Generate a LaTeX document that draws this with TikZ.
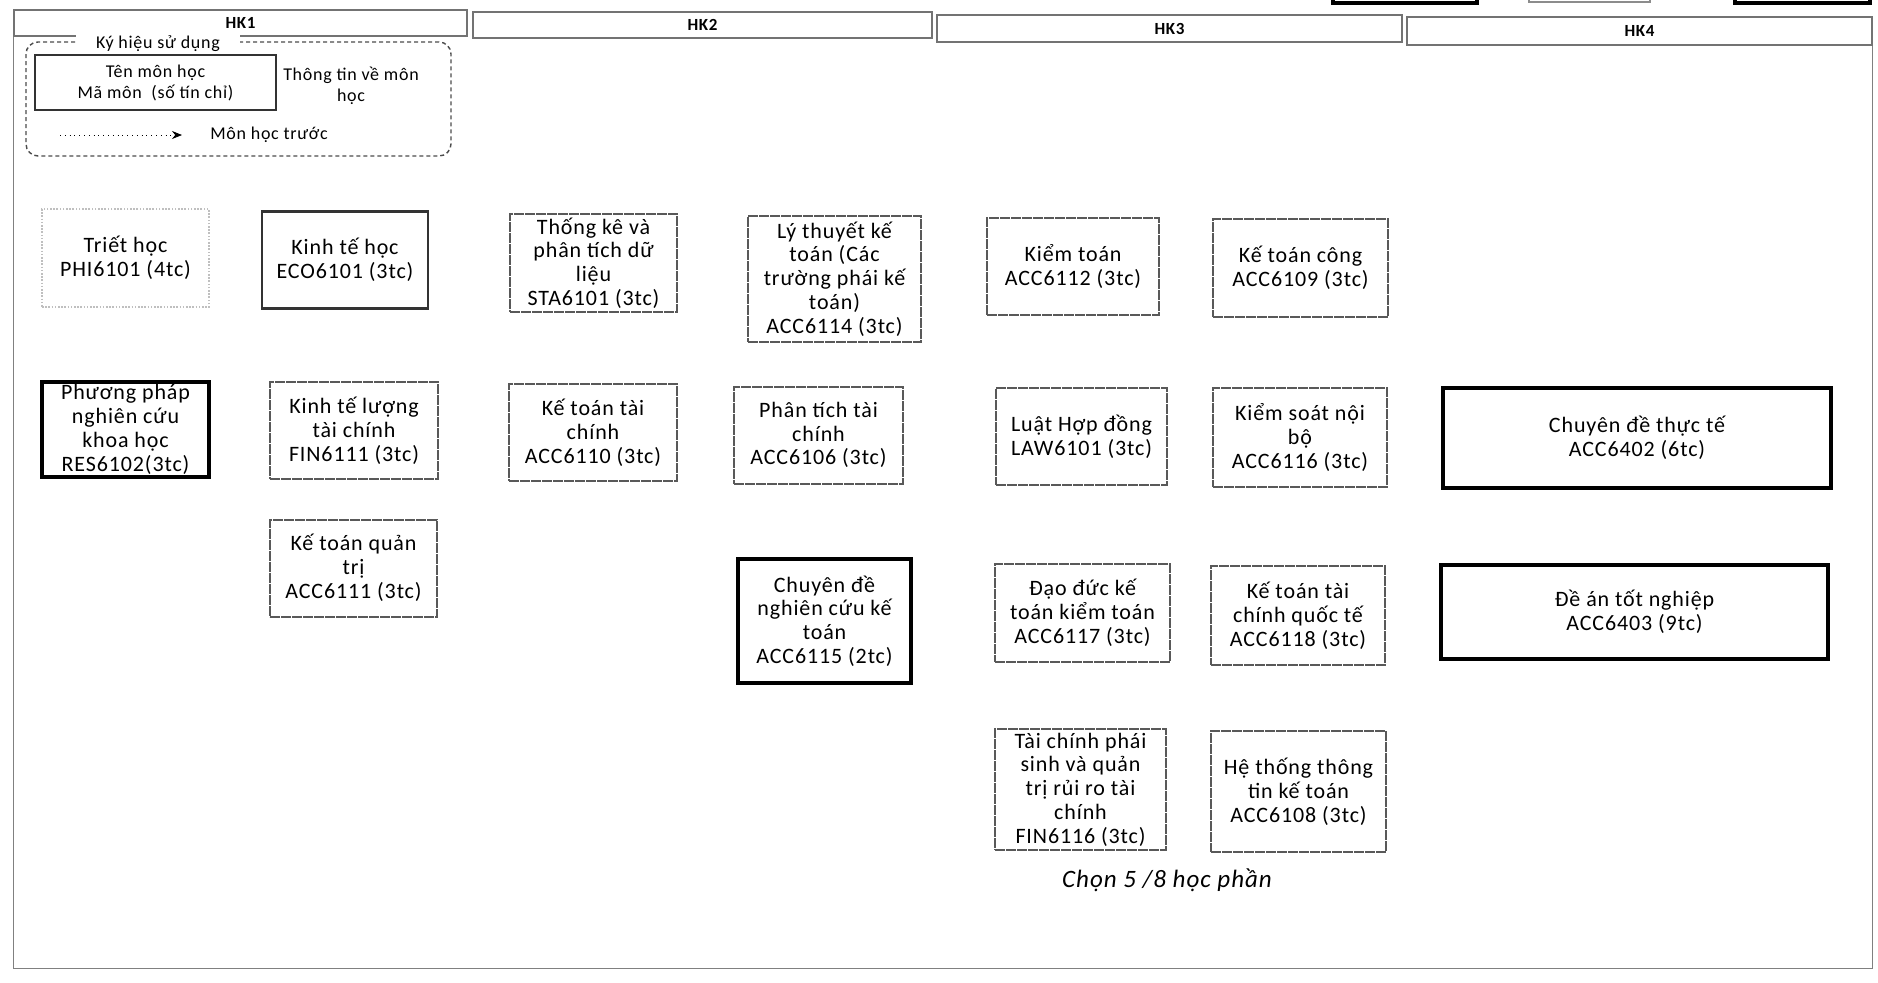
\documentclass[tikz,border=0pt]{standalone}
\usepackage{fontspec}
\setmainfont{Carlito}[LetterSpace=4]
\usetikzlibrary{arrows.meta}

\tikzset{
  hkbar/.style={draw=black!55, line width=0.8pt, inner sep=0pt,
    font=\fontsize{8.5}{9}\selectfont\bfseries},
  frame/.style={draw=black!50, line width=0.6pt},
  course/.style={draw=black!65, line width=1pt, dash pattern=on 5pt off 0.5pt,
    align=center, inner sep=1pt, minimum width=85pt, minimum height=48.5pt,
    font=\fontsize{11}{11.9}\selectfont},
  coursefaint/.style={course, draw=black!25, dash pattern=on 0.8pt off 0.8pt},
  coursesolid/.style={course, solid, draw=black!80, line width=1.2pt},
  coursebold/.style={course, solid, draw=black, line width=1.7pt},
  legend/.style={font=\fontsize{9}{10.5}\selectfont, align=center, inner sep=1pt},
}

\begin{document}
\begin{tikzpicture}[x=0.5pt,y=-0.5pt]
  \useasboundingbox (0,0) rectangle (1878,982);
  % scan remains at the top edge
  \draw[line width=1.6pt] (1333,-3) rectangle (1477,3);
  \draw[line width=1pt,black!45] (1529,-3) rectangle (1650,2);
  \draw[line width=1.6pt] (1735,-3) rectangle (1870,3);

  % semesters
  \node[hkbar, minimum width=226.5pt, minimum height=13pt] (hk1) at (240.5,23) {HK1};
  \node[hkbar, minimum width=229.5pt, minimum height=13pt] (hk2) at (702.5,25) {HK2};
  \node[hkbar, minimum width=232.5pt, minimum height=13.5pt] (hk3) at (1169.5,28.5) {HK3};
  \node[hkbar, minimum width=232.5pt, minimum height=14pt] (hk4) at (1639.5,31) {HK4};
  \draw[frame] (hk1.south west) -- ++(0,932) -| (hk4.south east);

  % legend
  \draw[black!70, line width=0.7pt, rounded corners=6pt, dash pattern=on 2pt off 1.5pt]
    (26,42) rectangle (451,156);
  \node[legend, fill=white, inner xsep=10pt] (lgtitle) at (158,44) {Ký hiệu sử dụng};
  \node[legend, draw=black!80, line width=0.7pt, minimum width=120.5pt, minimum height=27.5pt]
    (lgbox) at (155.5,82.5) {Tên môn học\\Mã môn~ (số tín chỉ)};
  \node[legend] (lginfo) at (351,86) {Thông tin về môn\\học};
  \coordinate (lgfrom) at (60,135);
  \coordinate (lgto) at (182,135);
  \draw[dotted, -{Stealth[length=5pt,width=4pt]}] (lgfrom) -- (lgto);
  \node[legend] (lgprev) at (269,135) {Môn học trước};

  % HK1
  \node[coursefaint, minimum width=83.5pt, minimum height=49pt] (phi) at (125.5,258) {Triết học\\PHI6101 (4tc)};
  \node[coursesolid, minimum width=83pt] (eco) at (345,260) {Kinh tế học\\ECO6101 (3tc)};
  \node[coursebold, minimum width=83.5pt, minimum height=47.5pt] (res) at (125.5,429.5) {Phương pháp\\nghiên cứu\\khoa học\\RES6102(3tc)};
  \node[course, minimum width=84pt] (fin11) at (354,430.5) {Kinh tế lượng\\tài chính\\FIN6111 (3tc)};
  \node[course, minimum width=83.5pt] (acc11) at (353.5,568) {Kế toán quản\\trị\\ACC6111 (3tc)};

  % HK2
  \node[course, minimum width=83.5pt, minimum height=49pt] (sta) at (593.5,263) {Thống kê và\\phân tích dữ\\liệu\\STA6101 (3tc)};
  \node[course, minimum width=86.5pt, minimum height=63pt] (acc14) at (834.5,279) {Lý thuyết kế\\toán (Các\\trường phái kế\\toán)\\ACC6114 (3tc)};
  \node[course, minimum width=84pt] (acc10) at (593,432.5) {Kế toán tài\\chính\\ACC6110 (3tc)};
  \node[course, minimum width=84.5pt] (acc06) at (818.5,435) {Phân tích tài\\chính\\ACC6106 (3tc)};
  \node[coursebold, minimum width=86.5pt, minimum height=62pt] (acc15) at (824.5,621) {Chuyên đề\\nghiên cứu kế\\toán\\ACC6115 (2tc)};

  % HK3
  \node[course, minimum width=86pt] (acc12) at (1073,266.5) {Kiểm toán\\ACC6112 (3tc)};
  \node[course, minimum width=87.5pt, minimum height=49pt] (acc09) at (1300.5,268) {Kế toán công\\ACC6109 (3tc)};
  \node[course, minimum width=85.5pt] (law) at (1081.5,436.5) {Luật Hợp đồng\\LAW6101 (3tc)};
  \node[course, minimum width=87pt, minimum height=49.5pt] (acc16) at (1300,437.5) {Kiểm soát nội\\bộ\\ACC6116 (3tc)};
  \node[course, minimum width=87.5pt, minimum height=49pt] (acc17) at (1082.5,613) {Đạo đức kế\\toán kiểm toán\\ACC6117 (3tc)};
  \node[course, minimum width=87pt, minimum height=49.5pt] (acc18) at (1298,615.5) {Kế toán tài\\chính quốc tế\\ACC6118 (3tc)};
  \node[course, minimum width=85.5pt, minimum height=60.5pt] (fin16) at (1080.5,789.5) {Tài chính phái\\sinh và quản\\trị rủi ro tài\\chính\\FIN6116 (3tc)};
  \node[course, minimum width=87.5pt, minimum height=60.5pt] (acc08) at (1298.5,791.5) {Hệ thống thông\\tin kế toán\\ACC6108 (3tc)};
  \node[font=\fontsize{12.5}{14}\selectfont\itshape] (chon) at (1167,880) {Chọn 5 /8 học phần};

  % HK4
  \node[coursebold, minimum width=194pt, minimum height=50pt] (acc402) at (1637,438) {Chuyên đề thực tế\\ACC6402 (6tc)};
  \node[coursebold, minimum width=193.5pt, minimum height=47pt] (acc403) at (1634.5,612) {Đề án tốt nghiệp\\ACC6403 (9tc)};
\end{tikzpicture}
\end{document}
